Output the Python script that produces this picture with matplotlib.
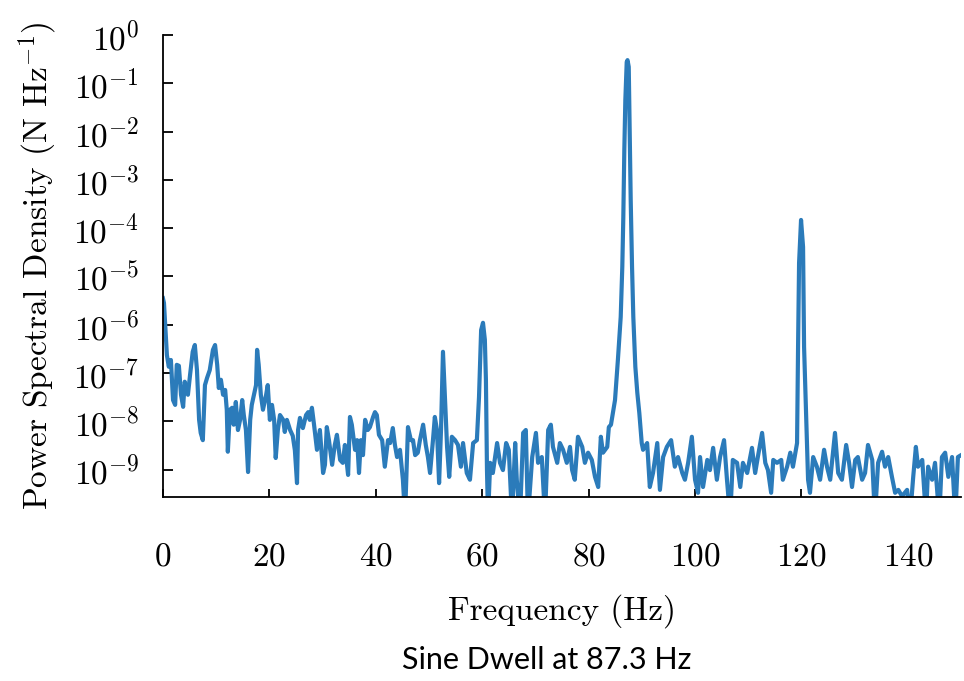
import numpy as np
import matplotlib
matplotlib.use('Agg')
import matplotlib.pyplot as plt

# values: frequency (Hz) and log10 of the PSD (N Hz^-1)
freq_hz = [
    0.0, 0.2, 0.6, 0.75, 1.1, 1.5, 1.9, 2.3, 2.6, 3.0, 3.4, 3.8, 4.1, 4.7, 5.1, 5.6, 6.0, 6.4, 6.8, 7.1,
    7.5, 7.9, 8.3, 8.8, 9.4, 9.8, 10.2, 10.5, 10.9, 11.3, 11.7, 12.0, 12.2, 12.6, 13.0, 13.3, 13.7, 14.1, 14.5, 14.9,
    15.2, 15.6, 16.0, 16.4, 16.7, 17.1, 17.5, 17.7, 18.0, 18.4, 18.8, 19.4, 19.7, 20.1, 20.5, 20.9, 21.2, 21.6, 22.0, 22.6,
    22.9, 23.3, 23.9, 24.4, 24.8, 25.2,
    25.4, 25.75, 26.3, 26.9, 27.3, 27.6, 28.0, 28.4, 28.95, 29.5, 30.1, 30.45, 30.8, 31.2, 31.8, 32.3, 32.7, 33.3, 33.8, 34.2,
    34.8, 35.15, 35.5, 36.1, 36.5, 36.85, 37.2, 37.6, 38.0, 38.5, 38.9, 39.5, 39.85, 40.2, 40.6, 41.2, 41.7, 42.3, 42.7, 43.2,
    43.6, 44.0, 44.55, 45.1, 45.5, 46.05, 46.6, 47.0, 47.4, 47.9, 48.3, 48.9, 49.4, 49.8, 50.2, 50.75, 51.1, 51.5, 51.9, 52.26,
    52.63,
    53.0, 53.4, 53.8, 54.3, 54.9, 55.45, 56.0, 56.4, 57.1, 57.7, 58.3, 59.0, 59.4, 59.8, 60.15, 60.5, 60.7, 60.9, 61.1, 61.5,
    62.0, 62.8, 63.35, 63.9, 64.5, 65.0, 65.6, 66.2, 66.5, 67.1, 67.7, 68.2, 68.6, 69.4, 70.1, 70.5, 71.2, 71.8, 72.4, 72.9,
    73.3, 74.1, 74.6, 75.2, 75.9, 76.5,
    76.9, 77.4, 78.0, 78.8, 79.3, 79.9, 80.6, 81.2, 81.8, 82.3, 82.7, 83.5, 83.8, 84.2, 84.96, 85.5, 86.03, 86.33, 86.52, 86.71,
    86.9, 87.16, 87.31, 87.54, 87.73, 87.91, 88.16, 88.4, 88.78, 89.15, 89.53, 89.98, 90.23, 91.0, 91.5, 92.1, 92.9, 93.4, 94.0, 94.7,
    95.5, 96.2, 96.8, 97.6, 98.1, 98.7, 99.4, 100.0, 100.56,
    100.94, 101.5, 102.3, 102.8, 103.4, 104.1, 104.7, 105.45, 106.0, 106.6, 107.1, 107.9, 108.5, 109.0, 109.8, 110.7, 111.3, 111.8, 112.6, 113.2,
    113.7, 114.3, 114.7, 115.4, 116.2, 116.5, 117.3, 117.9, 118.4, 119.17, 119.36, 119.55, 119.92, 120.3, 120.49, 121.05, 121.24, 121.6, 122.2, 122.9,
    123.5, 124.25, 124.8, 125.4, 126.3,
    126.9, 127.6, 128.4, 128.95, 129.5, 130.1, 130.6, 131.4, 131.95, 132.5, 133.3, 133.8, 134.4, 135.15, 135.7, 136.3, 137.0, 137.6, 138.2, 138.9,
    139.85, 140.4, 141.0, 141.5, 141.9, 142.7, 143.4, 143.8, 144.55, 145.1, 145.9, 146.4, 147.0, 147.6, 148.3, 148.9, 149.4, 150.0,
]
log10_psd = [
    -5.45, -5.55, -6.31, -6.63, -6.87, -6.73, -7.56, -7.66, -6.83, -6.85, -7.45, -7.70, -7.18, -7.45, -7.04, -6.56, -6.42, -6.94, -7.97, -8.24,
    -8.39, -7.25, -7.10, -6.94, -6.52, -6.42, -6.83, -7.31, -7.14, -7.45, -7.35, -7.76, -8.63, -7.76, -7.72, -8.07, -7.60, -8.18, -7.97, -7.56,
    -7.87, -8.18, -9.05, -7.97, -7.66, -7.45, -7.25, -6.52, -6.83, -7.45, -7.76, -7.45, -7.25, -7.97, -7.66, -7.97, -8.76, -8.18, -7.87, -7.97,
    -8.22, -7.97, -8.18, -8.30, -8.60, -9.28,
    -8.18, -7.93, -8.14, -7.87, -7.81, -7.97, -7.72, -8.07, -8.59, -8.18, -9.07, -8.90, -8.12, -8.39, -8.90, -8.49, -8.28, -8.80, -8.86, -8.49,
    -9.11, -7.91, -8.07, -8.59, -8.39, -9.07, -8.39, -8.70, -7.97, -8.18, -8.12, -7.91, -7.81, -7.87, -8.28, -8.39, -8.94, -8.39, -8.45, -8.14,
    -8.49, -8.74, -8.59, -9.21, -10.0, -8.12, -8.39, -8.39, -8.70, -8.65, -8.39, -8.07, -8.49, -8.74, -9.07, -8.39, -7.91, -8.18, -9.28, -8.18,
    -6.56,
    -7.50, -8.53, -9.15, -8.32, -8.39, -8.49, -8.94, -8.45, -9.07, -9.21, -8.45, -8.39, -7.50, -6.11, -5.96, -6.31, -7.14, -9.01, -10.0, -8.86,
    -9.07, -8.45, -8.86, -9.01, -8.45, -8.59, -10.0, -8.45, -9.21, -10.0, -8.24, -8.18, -10.0, -8.74, -8.24, -8.86, -8.74, -10.0, -8.18, -8.07,
    -8.53, -8.86, -8.45, -8.59, -8.86, -8.53,
    -9.01, -9.21, -8.32, -8.53, -8.86, -8.65, -8.80, -9.15, -9.36, -8.32, -8.65, -8.53, -8.12, -8.07, -7.56, -6.73, -5.84, -4.80, -3.77, -2.38,
    -1.35, -0.56, -0.52, -0.66, -2.03, -3.42, -4.80, -5.84, -6.87, -7.41, -7.83, -8.45, -8.59, -8.45, -9.36, -9.07, -8.45, -9.42, -8.74, -8.53,
    -8.39, -8.94, -8.74, -9.07, -9.21, -8.86, -8.32, -9.21, -9.48,
    -8.74, -9.36, -8.80, -9.01, -8.55, -9.21, -8.74, -8.39, -9.21, -10.0, -8.80, -8.86, -9.36, -8.86, -9.07, -8.55, -9.07, -8.74, -8.24, -8.86,
    -9.01, -9.48, -8.80, -8.86, -8.80, -9.21, -8.94, -8.65, -8.94, -8.45, -6.46, -4.72, -3.83, -4.39, -6.46, -8.53, -9.21, -9.48, -8.74, -8.94,
    -9.21, -8.59, -8.94, -9.21, -8.24,
    -9.07, -9.21, -8.49, -8.86, -9.36, -8.80, -8.74, -9.21, -9.07, -8.49, -8.80, -10.0, -8.86, -8.63, -8.94, -8.74, -9.15, -9.48, -9.42, -9.55,
    -9.42, -10.0, -9.15, -8.53, -8.94, -8.80, -10.0, -8.94, -9.21, -8.86, -10.0, -8.74, -8.65, -9.15, -8.74, -10.0, -8.74, -8.70,
]
x_ticks = [0, 20, 40, 60, 80, 100, 120, 140]

plt.rcParams['font.family'] = 'serif'
plt.rcParams['font.serif'] = ['cmr10']
plt.rcParams['mathtext.fontset'] = 'cm'
plt.rcParams['axes.formatter.use_mathtext'] = True
plt.rcParams['axes.unicode_minus'] = False

fig = plt.figure(figsize=(9.64, 6.81), dpi=100)
ax = fig.add_axes([0.169, 0.270, 0.828, 0.6786])

psd = 10.0 ** np.array(log10_psd)
ax.semilogy(freq_hz, psd, color='#2b7bba', linewidth=3.0, solid_joinstyle='round')

ax.set_xlim(0, 150)
ax.set_ylim(10 ** -9.57, 1.0)
ax.set_xticks(x_ticks)
ax.set_yticks([10.0 ** k for k in range(-9, 1)])

for side in ('top', 'right'):
    ax.spines[side].set_visible(False)
ax.spines['left'].set_linewidth(1.3)
ax.spines['bottom'].set_linewidth(1.3)

ax.tick_params(axis='x', which='major', direction='in', length=5.5, width=1.3, pad=33, labelsize=24)
ax.tick_params(axis='y', which='major', direction='in', length=7, width=1.3, pad=17, labelsize=24)
ax.tick_params(axis='y', which='minor', direction='in', length=4.3, width=1.1)

ax.set_xlabel('Frequency (Hz)', fontsize=24, labelpad=16)
ax.set_ylabel('Power Spectral Density (N Hz$^{-1}$)', fontsize=24, labelpad=10)

fig.text(0.567, 0.031, 'Sine Dwell at 87.3 Hz', family='Lato', fontsize=22,
         ha='center', va='center')

fig.savefig('out.png', dpi=100)
